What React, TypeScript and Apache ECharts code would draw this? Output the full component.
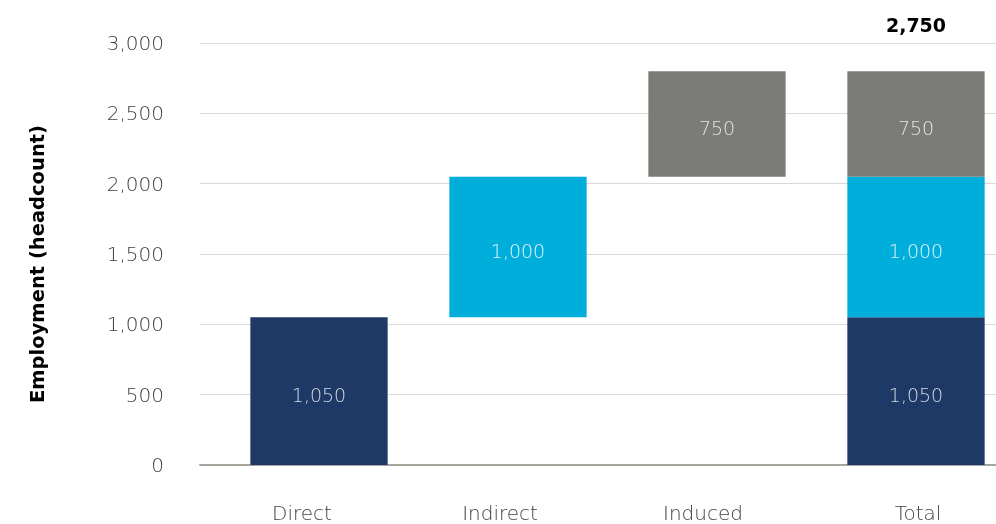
import React, { useEffect, useRef } from "react";
import * as echarts from "echarts";

const categories = ["Direct", "Indirect", "Induced", "Total"];
const directValues: (number | string)[] = [1050, "-", "-", 1050];
const indirectValues: (number | string)[] = ["-", 1000, "-", 1000];
const inducedValues: (number | string)[] = ["-", "-", 750, 750];
const baseValues = [0, 1050, 2050, 0];
const totalLabel = "2,750";
const yTicks = { min: 0, max: 3000, interval: 500 };

// layout only: per-label horizontal nudges (px)
const labelShift = [-17, -18, -14, 2];

const FONT = "DejaVu Sans";

export default function App() {
  const ref = useRef<HTMLDivElement>(null);
  useEffect(() => {
    if (!ref.current) return;
    const chart = echarts.init(ref.current, null, { renderer: "svg" });
    const fmt = (v: number) => v.toLocaleString("en-US");
    const rich: any = {};
    categories.forEach((c, i) => {
      const s = labelShift[i];
      rich["c" + i] = {
        fontFamily: FONT,
        fontWeight: 200,
        fontSize: 20,
        color: "#404040",
        padding: s < 0 ? [0, -2 * s, 0, 0] : [0, 0, 0, 2 * s],
      };
    });
    const segLabel = (color: string) => ({
      show: true,
      position: "inside",
      offset: [0, 4],
      color,
      fontFamily: FONT,
      fontWeight: 200,
      fontSize: 19,
      formatter: (p: any) => fmt(p.value),
    });
    chart.setOption({
      animation: false,
      grid: [
        { left: 200, right: 20, top: 43, bottom: 59 },
        { left: 219.5, right: 0.5, top: 43, bottom: 59 },
      ],
      xAxis: [
        {
          gridIndex: 0,
          type: "category",
          data: categories,
          axisLine: { show: true, lineStyle: { color: "#a6a69f", width: 2 } },
          axisTick: { show: false },
          axisLabel: { show: false },
          splitLine: { show: false },
        },
        {
          gridIndex: 1,
          type: "category",
          data: categories,
          axisLine: { show: false },
          axisTick: { show: false },
          axisLabel: {
            margin: 38,
            formatter: (v: string) => `{c${categories.indexOf(v)}|${v}}`,
            rich,
          },
        },
      ],
      yAxis: [
        {
          gridIndex: 0,
          type: "value",
          ...yTicks,
          name: "Employment (headcount)",
          nameLocation: "middle",
          nameGap: 153,
          nameTextStyle: {
            fontFamily: FONT,
            fontWeight: "bold",
            fontSize: 19.5,
            color: "#000",
            padding: [0, 0, 0, -20],
          },
          axisLine: { show: false },
          axisTick: { show: false },
          axisLabel: {
            margin: 36,
            fontFamily: FONT,
            fontWeight: 200,
            fontSize: 20,
            color: "#404040",
            formatter: (v: number) => fmt(v),
          },
          splitLine: { show: true, lineStyle: { color: "#d9d9d9", width: 1 } },
        },
        {
          gridIndex: 1,
          type: "value",
          ...yTicks,
          show: false,
          splitLine: { show: false },
        },
      ],
      series: [
        {
          type: "bar",
          xAxisIndex: 1,
          yAxisIndex: 1,
          stack: "w",
          data: baseValues,
          itemStyle: { color: "transparent" },
          barCategoryGap: "31%",
          silent: true,
        },
        {
          type: "bar",
          xAxisIndex: 1,
          yAxisIndex: 1,
          stack: "w",
          data: directValues,
          itemStyle: { color: "#1e3966" },
          label: segLabel("#d4d9e2"),
        },
        {
          type: "bar",
          xAxisIndex: 1,
          yAxisIndex: 1,
          stack: "w",
          data: indirectValues,
          itemStyle: { color: "#00aedb" },
          label: segLabel("#e2f4fa"),
        },
        {
          type: "bar",
          xAxisIndex: 1,
          yAxisIndex: 1,
          stack: "w",
          data: inducedValues,
          itemStyle: { color: "#7b7c77" },
          label: segLabel("#e4e4e2"),
          markPoint: {
            symbol: "rect",
            symbolSize: 1,
            itemStyle: { color: "transparent" },
            label: {
              show: true,
              position: "top",
              distance: 0,
              formatter: totalLabel,
              fontFamily: FONT,
              fontWeight: "bold",
              fontSize: 19,
              color: "#000",
            },
            data: [{ coord: [3, 3000], value: totalLabel, symbolOffset: [0, -8] }],
          },
        },
      ],
    });
    return () => chart.dispose();
  }, []);
  return (
    <div
      style={{
        position: "fixed",
        left: 0,
        top: 0,
        width: 996,
        height: 524,
        overflow: "hidden",
      }}
    >
      <div ref={ref} style={{ width: 1016, height: 524 }} />
    </div>
  );
}
